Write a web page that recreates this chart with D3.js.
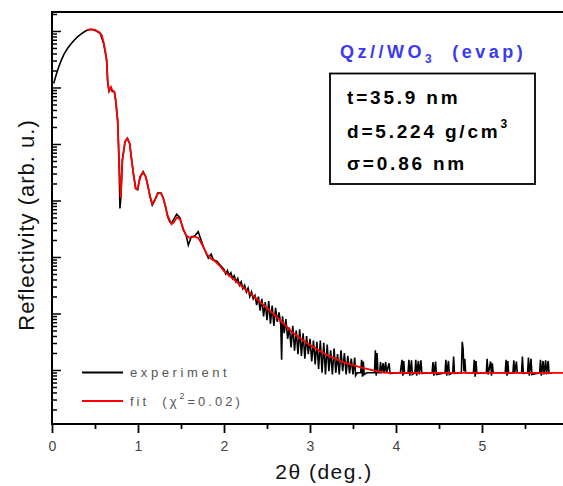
<!DOCTYPE html>
<html><head><meta charset="utf-8">
<script src="https://cdn.jsdelivr.net/npm/d3@7"></script>
<style>body{margin:0;background:#fff}svg{display:block;font-family:"Liberation Sans",Arial,sans-serif}</style>
</head><body><svg id="c" width="563" height="486"></svg>
<script>
// ---- data ----
const xMajorTicks = [0, 1, 2, 3, 4, 5, 6];
const xMinorTicks = [0.5, 1.5, 2.5, 3.5, 4.5, 5.5];
const yDecades = [-7, -6, -5, -4, -3, -2, -1, 0]; // log10 of major ticks (arb. u.)

// experiment: 2theta (deg) and log10(reflectivity)
const expTheta = [0.02,0.04,0.06,0.08,0.11,0.14,0.18,0.22,0.26,0.30,0.34,0.38,0.42,0.46,0.50,0.56,0.60,0.636,0.647,0.663,0.686,0.70,0.725,0.74,0.764,0.779,0.79,0.80,0.818,0.849,0.876,0.903,0.926,0.946,0.973,0.996,1.023,1.06,1.09,1.113,1.14,1.166,1.198,1.229,1.267,1.294,1.32,1.345,1.37,1.39,1.42,1.45,1.488,1.527,1.56,1.585,1.62,1.66,1.70,1.76,1.80,1.818,1.85,1.876,1.92,1.953,
2.00,2.02,2.04,2.06,2.08,2.10,2.12,2.14,2.16,2.18,2.20,2.22,2.24,2.26,2.28,2.30,2.32,2.34,2.36,2.38,2.40,2.42,2.44,2.46,2.48,2.50,2.52,2.54,2.56,2.58,2.60,2.62,2.64,2.66,2.67,2.68,2.70,2.72,2.74,2.76,2.78,2.80,2.82,2.84,2.86,2.88,2.90,2.92,2.94,2.96,2.98,3.00,3.02,3.04,3.06,3.08,3.10,3.12,3.14,3.16,3.18,3.20,3.22,3.24,3.26,3.28,3.30,3.32,3.34,3.36,3.38,3.40,3.42,3.44,3.46,3.48,3.50,3.52,3.53,3.55,
3.59,3.60,3.61,3.62,3.63,3.66,3.75,3.76,3.77,3.78,3.79,3.81,3.82,3.83,3.85,3.86,3.88,3.89,3.92,3.93,4.05,4.07,4.08,4.09,4.10,4.14,4.15,4.16,4.18,4.19,4.22,4.23,4.24,4.26,4.27,4.29,4.30,4.42,4.43,4.44,4.46,4.47,4.57,4.58,4.59,4.61,4.62,4.66,4.67,4.68,4.76,4.77,4.78,4.79,4.80,4.81,4.90,4.91,4.92,4.93,4.94,5.05,5.06,5.07,5.10,5.11,5.12,5.13,5.27,5.28,5.29,5.30,5.31,5.36,5.37,5.38,5.40,5.41,5.46,5.47,5.48,5.53,5.54,5.55,5.57,5.58,5.67,5.68,5.69,5.71,5.72,5.74,5.75,5.77,5.78,5.82];
const expLogR = [-0.93,-0.82,-0.72,-0.63,-0.51,-0.41,-0.31,-0.23,-0.16,-0.10,-0.05,-0.01,0.02,0.03,0.01,-0.04,-0.22,-0.51,-0.90,-1.07,-1.01,-1.07,-1.07,-1.22,-1.60,-2.28,-3.14,-2.96,-2.28,-1.96,-1.90,-1.99,-2.28,-2.52,-2.79,-2.81,-2.58,-2.49,-2.58,-2.73,-2.93,-3.08,-2.99,-2.87,-2.87,-2.96,-3.11,-3.29,-3.38,-3.40,-3.32,-3.24,-3.31,-3.52,-3.62,-3.79,-3.64,-3.63,-3.55,-3.82,-3.96,-4.02,-3.95,-4.05,-4.08,-4.14,
-4.22,-4.30,-4.24,-4.33,-4.28,-4.38,-4.33,-4.44,-4.38,-4.50,-4.44,-4.56,-4.50,-4.62,-4.55,-4.70,-4.62,-4.74,-4.68,-4.85,-4.70,-4.95,-4.74,-5.05,-4.80,-5.12,-4.78,-5.18,-4.86,-5.22,-4.90,-5.15,-4.98,-5.20,-5.82,-5.05,-5.35,-5.10,-5.45,-5.25,-5.60,-5.22,-5.66,-5.30,-5.72,-5.28,-5.75,-5.35,-5.80,-5.40,-5.72,-5.45,-5.85,-5.48,-5.90,-5.50,-5.98,-5.48,-6.05,-5.52,-6.08,-5.55,-6.02,-5.65,-6.08,-5.62,-6.05,-5.72,-6.08,-5.65,-6.02,-5.70,-6.08,-5.75,-6.06,-5.80,-6.08,-5.78,-6.10,-6.05,
-6.05,-5.82,-6.12,-5.85,-6.08,-6.05,-6.05,-5.65,-6.10,-5.70,-6.05,-6.05,-5.86,-6.06,-5.88,-6.06,-5.86,-6.05,-5.88,-6.06,-6.05,-5.82,-6.10,-5.84,-6.06,-6.05,-5.82,-6.10,-5.83,-6.08,-6.05,-5.82,-6.10,-5.84,-6.08,-5.83,-6.06,-6.05,-5.86,-6.10,-5.85,-6.08,-6.05,-5.82,-6.10,-5.84,-6.08,-6.05,-5.76,-6.06,-6.05,-5.50,-5.62,-6.02,-5.80,-6.05,-6.05,-5.82,-6.12,-5.84,-6.06,-6.05,-5.80,-6.08,-5.85,-6.10,-5.88,-6.05,-6.05,-5.82,-6.10,-5.84,-6.06,-6.05,-5.83,-6.06,-5.85,-6.05,-6.05,-5.76,-6.06,-6.05,-5.78,-6.10,-5.80,-6.08,-6.05,-5.82,-6.10,-5.84,-6.08,-5.83,-6.08,-5.84,-6.06,-6.05];

// fit
const fitTheta = [0.41,0.45,0.50,0.55,0.58,0.60,0.62,0.636,0.647,0.663,0.686,0.70,0.725,0.74,0.764,0.779,0.80,0.818,0.849,0.876,0.903,0.926,0.946,0.973,0.996,1.023,1.06,1.09,1.113,1.14,1.166,1.198,1.229,1.267,1.294,1.32,1.345,1.39,1.42,1.45,1.488,1.527,1.56,1.60,1.65,1.70,1.76,1.80,1.85,1.90,1.953,2.00,2.20,2.40,2.60,2.80,3.00,3.20,3.40,3.60,3.80,3.90,6.00];
const fitLogR = [0.02,0.03,0.02,-0.02,-0.08,-0.20,-0.36,-0.55,-0.88,-1.06,-0.99,-1.05,-1.08,-1.22,-1.60,-2.28,-2.96,-2.30,-1.96,-1.90,-1.99,-2.28,-2.52,-2.79,-2.80,-2.60,-2.50,-2.58,-2.73,-2.93,-3.06,-2.98,-2.88,-2.87,-2.96,-3.11,-3.27,-3.42,-3.38,-3.30,-3.33,-3.50,-3.62,-3.66,-3.64,-3.66,-3.82,-3.95,-4.03,-4.08,-4.16,-4.25,-4.51,-4.77,-5.04,-5.34,-5.56,-5.74,-5.87,-5.96,-6.03,-6.05,-6.05];

// ---- chart ----
const svg = d3.select("#c");
const L = 52, R = 568, T = 12, B = 424;
const x = d3.scaleLinear().domain([0, 6]).range([L, R]);
const y = d3.scaleLog().domain([Math.pow(10, -6.956), Math.pow(10, 0.336)]).range([B, T]);

svg.append("defs").append("clipPath").attr("id","clip")
  .append("rect").attr("x",L).attr("y",T).attr("width",R-L).attr("height",B-T);

const line = d3.line().x(d => x(d[0])).y(d => y(Math.pow(10, d[1])));
const expData = expTheta.map((t,i) => [t, expLogR[i]]);
const fitData = fitTheta.map((t,i) => [t, fitLogR[i]]);

const g = svg.append("g").attr("clip-path","url(#clip)");
g.append("path").datum(expData).attr("d", line)
  .attr("fill","none").attr("stroke","#000").attr("stroke-width",1.6);
g.append("path").datum(fitData).attr("d", line)
  .attr("fill","none").attr("stroke","#ff0000").attr("stroke-width",1.8);

// y axis ticks (inward)
const allY = y.ticks();
const yMajor = yDecades.map(e => Math.pow(10, e)).filter(v => v >= y.domain()[0] && v <= y.domain()[1]);
const yMinor = allY.filter(v => Math.abs(Math.log10(v) - Math.round(Math.log10(v))) > 1e-6);
const yAxMin = svg.append("g").attr("transform",`translate(${L},0)`)
  .call(d3.axisRight(y).tickValues(yMinor).tickSize(5).tickFormat(""));
const yAxMaj = svg.append("g").attr("transform",`translate(${L},0)`)
  .call(d3.axisRight(y).tickValues(yMajor).tickSize(9).tickFormat(""));
[yAxMin, yAxMaj].forEach(a => { a.select(".domain").remove(); a.selectAll("line").attr("stroke","#000").attr("stroke-width",1.5); });

// x axis ticks (outward)
const xAxMin = svg.append("g").attr("transform",`translate(0,${B})`)
  .call(d3.axisBottom(x).tickValues(xMinorTicks).tickSize(5).tickFormat(""));
const xAxMaj = svg.append("g").attr("transform",`translate(0,${B})`)
  .call(d3.axisBottom(x).tickValues(xMajorTicks).tickSize(9).tickPadding(8).tickFormat(d3.format("d")));
[xAxMin, xAxMaj].forEach(a => { a.select(".domain").remove(); a.selectAll("line").attr("stroke","#000").attr("stroke-width",1.8); });
xAxMaj.selectAll("text").attr("font-size",14).attr("fill","#444")
  .attr("font-family",'"Liberation Sans",Arial,sans-serif');

// frame
const fr = svg.append("g").attr("stroke","#000").attr("fill","none");
fr.append("line").attr("x1",L).attr("x2",R).attr("y1",T).attr("y2",T).attr("stroke-width",1.8);
fr.append("line").attr("x1",R).attr("x2",R).attr("y1",T).attr("y2",B).attr("stroke-width",1.8);
fr.append("line").attr("x1",L).attr("x2",L).attr("y1",T-0.9).attr("y2",B+0.9).attr("stroke-width",2);
fr.append("line").attr("x1",L).attr("x2",R).attr("y1",B).attr("y2",B).attr("stroke-width",2);

// axis titles
svg.append("text").attr("x",324).attr("y",479).attr("text-anchor","middle")
  .attr("font-size",21).attr("letter-spacing","1.5px").attr("fill","#111").text("2θ (deg.)");
svg.append("text").attr("transform","translate(34,225) rotate(-90)").attr("text-anchor","middle")
  .attr("font-size",22).attr("letter-spacing","1px").attr("fill","#111").text("Reflectivity (arb. u.)");

// title
const tt = svg.append("text").attr("x",340).attr("y",58).attr("font-size",18).attr("font-weight","bold")
  .attr("fill","#3a3af0").attr("letter-spacing","3.5px").attr("xml:space","preserve").style("white-space","pre");
tt.append("tspan").text("Qz//WO");
tt.append("tspan").attr("font-size",12).attr("dy",5).text("3");
tt.append("tspan").attr("dy",-5).text("  (evap)");

// parameter box
svg.append("rect").attr("x",330).attr("y",73.5).attr("width",205).attr("height",110.5)
  .attr("fill","none").attr("stroke","#000").attr("stroke-width",1.8);
const bx = svg.append("g").attr("font-size",19).attr("font-weight","bold").attr("fill","#000").attr("letter-spacing","2.8px");
bx.append("text").attr("x",347).attr("y",104).text("t=35.9 nm");
const dl = bx.append("text").attr("x",347).attr("y",138);
dl.append("tspan").text("d=5.224 g/cm");
dl.append("tspan").attr("font-size",12).attr("dy",-10).text("3");
bx.append("text").attr("x",347).attr("y",170).text("σ=0.86 nm");

// legend
const lg = svg.append("g");
lg.append("line").attr("x1",82).attr("x2",123).attr("y1",372.5).attr("y2",372.5).attr("stroke","#000").attr("stroke-width",2);
lg.append("line").attr("x1",82).attr("x2",123).attr("y1",401).attr("y2",401).attr("stroke","#ff0000").attr("stroke-width",2);
lg.append("text").attr("x",130).attr("y",377).attr("font-size",13).attr("letter-spacing","3.6px").attr("fill","#555").text("experiment");
const ft = lg.append("text").attr("x",130).attr("y",406).attr("font-size",13).attr("letter-spacing","3px").attr("fill","#555").style("white-space","pre");
ft.append("tspan").text("fit  (χ");
ft.append("tspan").attr("font-size",9).attr("dy",-7).text("2");
ft.append("tspan").attr("dy",7).text("=0.02)");
</script></body></html>
